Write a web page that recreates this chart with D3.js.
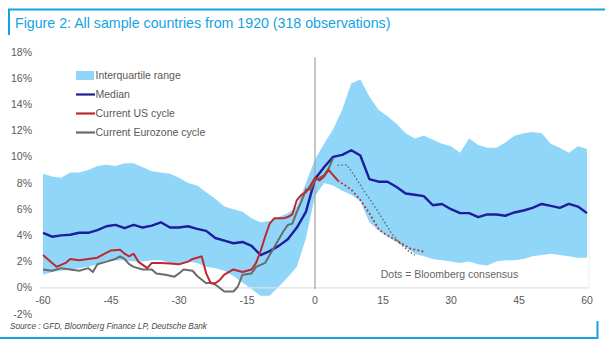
<!DOCTYPE html>
<html>
<head>
<meta charset="utf-8">
<script src="https://cdn.jsdelivr.net/npm/d3@7"></script>
<style>
  html, body { margin: 0; padding: 0; background: #ffffff; }
  svg { display: block; }
  text { font-family: "Liberation Sans", Arial, sans-serif; }
</style>
</head>
<body>
<svg id="chart" width="605" height="345"></svg>
<script>
// ---------------- DATA ----------------
const titleText = "Figure 2: All sample countries from 1920 (318 observations)";
const sourceText = "Source : GFD, Bloomberg Finance LP, Deutsche Bank";
const noteText = "Dots = Bloomberg consensus";
const xTicks = [-60, -45, -30, -15, 0, 15, 30, 45, 60];
const yTicks = [-2, 0, 2, 4, 6, 8, 10, 12, 14, 16, 18];
const legendLabels = ["Interquartile range", "Median", "Current US cycle", "Current Eurozone cycle"];

// months relative to the peak (step 2)
const months = [-60,-58,-56,-54,-52,-50,-48,-46,-44,-42,-40,-38,-36,-34,-32,-30,-28,-26,-24,-22,-20,-18,-16,-14,-12,-10,-8,-6,-4,-2,0,2,4,6,8,10,12,14,16,18,20,22,24,26,28,30,32,34,36,38,40,42,44,46,48,50,52,54,56,58,60];
const iqrHigh = [8.7,8.5,8.4,8.8,8.8,9.0,9.3,9.4,9.3,9.5,9.5,9.2,8.9,8.8,8.7,8.4,8.0,7.8,7.3,6.8,6.2,6.0,5.8,5.3,5.0,5.1,5.4,5.7,6.2,8.0,9.8,11.0,12.1,13.6,15.6,15.9,14.6,13.6,13.1,12.5,11.8,11.4,11.6,11.3,11.0,10.8,10.3,11.4,10.9,10.7,10.7,11.1,11.6,11.8,11.9,11.8,11.0,10.7,10.3,10.8,10.6];
const iqrLow  = [1.0,1.2,1.3,1.4,1.5,1.6,1.8,2.1,2.1,2.1,2.0,2.0,2.1,2.1,1.9,1.9,2.0,1.9,1.6,1.5,1.3,0.9,0.4,-0.1,-0.6,-0.6,0.1,0.8,1.6,3.8,7.0,8.0,7.8,7.4,7.1,6.6,5.0,4.4,3.9,3.5,3.1,2.6,2.4,2.2,2.1,2.0,1.9,2.0,1.8,1.7,2.0,2.1,2.1,2.2,2.4,2.5,2.6,2.5,2.4,2.3,2.3];
const median  = [4.2,3.9,4.0,4.05,4.2,4.2,4.4,4.7,4.8,4.55,4.8,4.6,4.75,5.0,4.6,4.6,4.7,4.5,4.35,3.8,3.6,3.4,3.5,3.2,2.5,2.8,3.2,3.7,4.6,5.8,8.3,9.2,10.0,10.15,10.5,10.1,8.3,8.1,8.1,7.7,7.2,7.1,7.0,6.3,6.4,6.0,5.7,5.7,5.4,5.6,5.6,5.5,5.75,5.9,6.1,6.4,6.25,6.1,6.4,6.2,5.7];

// Current US cycle (actual)
const usMonths = [-60,-58,-57,-55,-54,-52,-50,-48,-47,-45,-43,-42,-41,-40,-39,-37,-36,-34,-32,-30,-28,-27,-26,-25,-24,-23,-22,-21,-20,-18,-16,-14,-13,-12,-11,-10,-9,-7,-6,-5,-4,-3,-2,-1,0,1,2,3,4,5];
const usValues = [2.5,1.9,1.6,1.9,2.2,2.1,2.2,2.3,2.5,2.85,2.9,2.6,2.4,2.6,2.0,1.5,1.9,1.9,1.85,1.8,2.0,2.2,2.3,2.4,1.1,0.35,0.35,0.6,1.0,1.4,1.2,1.4,1.9,2.8,3.9,4.9,5.3,5.3,5.4,5.6,6.7,7.1,7.3,7.8,8.4,8.2,8.5,9.0,8.6,8.2];
// Current US cycle (Bloomberg consensus)
const usFcMonths = [5,8,10,12,14,15,17,19,21,24];
const usFcValues = [8.2,7.5,6.7,5.7,4.5,4.2,3.8,3.4,3.0,2.75];

// Current Eurozone cycle (actual)
const ezMonths = [-60,-58,-56,-54,-52,-50,-49,-48,-46,-44,-43,-42,-41,-40,-38,-36,-35,-33,-31,-30,-29,-27,-26,-24,-23,-22,-20,-18,-17,-16,-14,-13,-11,-10,-9,-7,-6,-5,-4,-3,-2,-1,0,1,2,3,4];
const ezValues = [1.4,1.3,1.5,1.4,1.3,1.5,1.2,1.8,2.0,2.2,2.4,2.2,1.8,1.6,1.4,1.4,1.1,1.0,0.85,1.1,1.4,1.3,0.9,0.35,0.4,0.25,-0.28,-0.28,0.1,1.0,1.1,1.6,1.9,2.5,3.1,4.3,4.8,4.9,5.8,6.6,7.5,7.5,8.2,8.4,8.6,9.1,9.9];
// Current Eurozone cycle (Bloomberg consensus)
const ezFcMonths = [5,7,9,11,13,15,17,19,21,22];
const ezFcValues = [9.35,9.4,8.4,7.3,6.3,5.2,4.1,3.3,2.7,2.5];

// ---------------- STYLE ----------------
const blue = "#12a3e3";
const bandColor = "#8fd6f9";
const medianColor = "#1f1c9e";
const usColor = "#c1272d";
const ezColor = "#6b6b6b";
const axisText = "#595959";

const svg = d3.select("#chart");
const x = d3.scaleLinear().domain([-60, 60]).range([43, 587]);
const y = d3.scaleLinear().domain([-2, 18]).range([314, 52]);

// frame
svg.append("line").attr("x1", 8).attr("x2", 605).attr("y1", 9.5).attr("y2", 9.5)
  .attr("stroke", blue).attr("stroke-width", 2);
svg.append("line").attr("x1", 9).attr("x2", 9).attr("y1", 9).attr("y2", 35)
  .attr("stroke", blue).attr("stroke-width", 2);
svg.append("line").attr("x1", 0).attr("x2", 598).attr("y1", 338).attr("y2", 338)
  .attr("stroke", blue).attr("stroke-width", 2);
svg.append("line").attr("x1", 597.5).attr("x2", 597.5).attr("y1", 321).attr("y2", 339)
  .attr("stroke", blue).attr("stroke-width", 2);

svg.append("text").attr("x", 15).attr("y", 28)
  .attr("fill", blue).style("font-size", "14.2px")
  .text(titleText);

// band
const bandData = months.map((m, i) => ({ m, lo: iqrLow[i], hi: iqrHigh[i] }));
svg.append("path").datum(bandData)
  .attr("fill", bandColor)
  .attr("d", d3.area().x(d => x(d.m)).y0(d => y(d.lo)).y1(d => y(d.hi)));

// zero line and right edge
svg.append("line").attr("x1", x(-60) - 3).attr("x2", x(60) + 2).attr("y1", y(0)).attr("y2", y(0))
  .attr("stroke", "#e2e2e2").attr("stroke-width", 1.2);
svg.append("line").attr("x1", x(60) + 2).attr("x2", x(60) + 2).attr("y1", y(10.5)).attr("y2", y(0))
  .attr("stroke", "#eeeeee").attr("stroke-width", 1);
// vertical line at 0
svg.append("line").attr("x1", x(0)).attr("x2", x(0)).attr("y1", y(17.6)).attr("y2", y(-0.1))
  .attr("stroke", "#a8a8a8").attr("stroke-width", 1.3);

const line = d3.line().x(d => x(d[0])).y(d => y(d[1]));

function drawLine(ms, vs, color, width, dash) {
  const p = svg.append("path").datum(ms.map((m, i) => [m, vs[i]]))
    .attr("fill", "none").attr("stroke", color).attr("stroke-width", width)
    .attr("stroke-linejoin", "round").attr("d", line);
  if (dash) p.attr("stroke-dasharray", dash);
  return p;
}

drawLine(ezFcMonths, ezFcValues, ezColor, 1.5, "1.5,2.2");
drawLine(usFcMonths, usFcValues, usColor, 1.8, "1.8,2.4");
drawLine(months, median, medianColor, 2.4);
drawLine(ezMonths, ezValues, ezColor, 2);
drawLine(usMonths, usValues, usColor, 2);

// axes labels
svg.append("g").selectAll("text").data(yTicks).join("text")
  .attr("x", 32).attr("y", d => y(d)).attr("dy", "0.35em")
  .attr("text-anchor", "end").attr("fill", axisText).style("font-size", "10.5px")
  .text(d => d + "%");
svg.append("g").selectAll("text").data(xTicks).join("text")
  .attr("x", d => x(d)).attr("y", y(0) + 13).attr("dy", "0.35em")
  .attr("text-anchor", "middle").attr("fill", axisText).style("font-size", "10.5px")
  .text(d => d);

// note
svg.append("text").attr("x", x(14.5)).attr("y", y(1.0)).attr("dy", "0.35em")
  .attr("fill", "#666666").style("font-size", "10.5px").text(noteText);

// legend
const lg = svg.append("g").attr("transform", "translate(76,75.5)");
legendLabels.forEach((lab, i) => {
  const gy = i * 19;
  if (i === 0) {
    lg.append("rect").attr("x", 0).attr("y", gy - 4.5).attr("width", 18).attr("height", 9).attr("fill", bandColor);
  } else {
    const c = [null, medianColor, usColor, ezColor][i];
    lg.append("line").attr("x1", 0).attr("x2", 19).attr("y1", gy).attr("y2", gy)
      .attr("stroke", c).attr("stroke-width", 2.2);
  }
  lg.append("text").attr("x", 19.5).attr("y", gy).attr("dy", "0.35em")
    .attr("fill", "#595959").style("font-size", "10.5px").text(lab);
});

// source
svg.append("text").attr("x", 10).attr("y", 329)
  .attr("fill", "#4a4a4a").style("font-size", "8.2px").style("font-style", "italic")
  .text(sourceText);
</script>
</body>
</html>
